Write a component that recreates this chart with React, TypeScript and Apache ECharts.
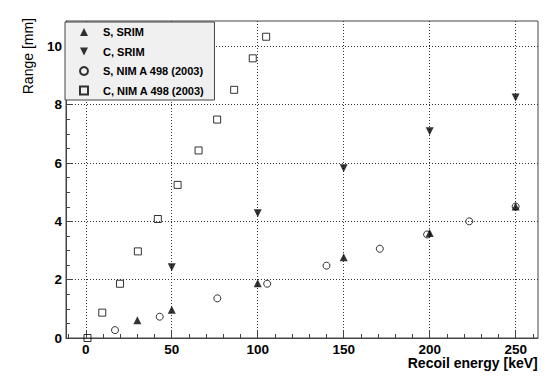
import React, { useEffect, useRef } from "react";
import * as echarts from "echarts";

// S, SRIM (up triangles)
const sSrimX = [30, 50, 100, 150, 200, 250];
const sSrimY = [0.61, 0.97, 1.88, 2.77, 3.6, 4.51];
// C, SRIM (down triangles)
const cSrimX = [50, 100, 150, 200, 250];
const cSrimY = [2.43, 4.28, 5.82, 7.09, 8.25];
// S, NIM A 498 (2003) (open circles)
const sNimX = [17, 43, 76.5, 105.5, 140, 171, 198.5, 223, 250];
const sNimY = [0.27, 0.73, 1.36, 1.86, 2.48, 3.06, 3.55, 4.0, 4.51];
// C, NIM A 498 (2003) (open squares)
const cNimX = [1, 9.6, 19.9, 30.3, 41.9, 53.4, 65.6, 76.4, 86.3, 97.1, 104.9];
const cNimY = [0.0, 0.87, 1.86, 2.97, 4.08, 5.25, 6.43, 7.49, 8.51, 9.59, 10.33];

const seriesNames = ["S, SRIM", "C, SRIM", "S, NIM A 498 (2003)", "C, NIM A 498 (2003)"];

const xMajor = [0, 50, 100, 150, 200, 250];
const xMinor = [-10, 10, 20, 30, 40, 60, 70, 80, 90, 110, 120, 130, 140, 160, 170, 180, 190, 210, 220, 230, 240, 260];
const yMajor = [0, 2, 4, 6, 8, 10];
const yMinor = [0.5, 1, 1.5, 2.5, 3, 3.5, 4.5, 5, 5.5, 6.5, 7, 7.5, 8.5, 9, 9.5, 10.5];

const xTitle = "Recoil energy [keV]";
const yTitle = "Range [mm]";

const FONT = "'Liberation Sans', Arial, Helvetica, sans-serif";
const FRAME = "#444";
const DOWN_TRIANGLE = "path://M0,0L10,0L5,10Z";

function zip(xs: number[], ys: number[]) {
  return xs.map((x, i) => [x, ys[i]]);
}

export default function App() {
  const ref = useRef<HTMLDivElement>(null);
  useEffect(() => {
    if (!ref.current) return;
    const chart = echarts.init(ref.current, undefined, { renderer: "svg" });
    const X_MIN = -11.5;
    const X_MAX = 263;
    const Y_MIN = 0;
    const Y_MAX = 10.87;
    const labelStyle = {
      fontFamily: FONT,
      fontWeight: "bold" as const,
      fontSize: 13.5,
      color: "#000",
    };
    chart.setOption({
      animation: false,
      backgroundColor: "#fff",
      grid: {
        left: 66,
        top: 21,
        right: 22,
        bottom: 50,
        show: true,
        borderColor: FRAME,
        borderWidth: 1,
        backgroundColor: "transparent",
      },
      xAxis: [
        {
          type: "value",
          min: X_MIN,
          max: X_MAX,
          position: "bottom",
          axisLine: { show: true, onZero: false, lineStyle: { color: FRAME, width: 1 } },
          axisTick: { show: true, inside: true, length: 8, customValues: xMajor, lineStyle: { color: FRAME } },
          axisLabel: { show: true, customValues: xMajor, margin: 4, ...labelStyle },
          splitLine: { show: true, lineStyle: { color: "#333", type: [1, 2], width: 1 } },
        },
        {
          type: "value",
          min: X_MIN,
          max: X_MAX,
          position: "bottom",
          axisLine: { show: false, onZero: false },
          axisTick: { show: true, inside: true, length: 4, customValues: xMinor, lineStyle: { color: FRAME } },
          axisLabel: { show: false },
          splitLine: { show: false },
        },
      ],
      yAxis: [
        {
          type: "value",
          min: Y_MIN,
          max: Y_MAX,
          position: "left",
          axisLine: { show: true, onZero: false, lineStyle: { color: FRAME, width: 1 } },
          axisTick: { show: true, inside: true, length: 7, customValues: yMajor, lineStyle: { color: FRAME } },
          axisLabel: { show: true, customValues: yMajor, margin: 4, ...labelStyle },
          splitLine: { show: true, lineStyle: { color: "#333", type: [1, 2], width: 1 } },
        },
        {
          type: "value",
          min: Y_MIN,
          max: Y_MAX,
          position: "left",
          axisLine: { show: false, onZero: false },
          axisTick: { show: true, inside: true, length: 4, customValues: yMinor, lineStyle: { color: FRAME } },
          axisLabel: { show: false },
          splitLine: { show: false },
        },
      ],
      legend: {
        orient: "vertical",
        left: 65,
        top: 22,
        padding: [4, 10, 3.5, 14],
        itemWidth: 8,
        itemHeight: 8,
        itemGap: 7.5,
        selectedMode: false,
        backgroundColor: "#f0f0f0",
        borderColor: FRAME,
        borderWidth: 1,
        data: seriesNames,
        textStyle: {
          fontFamily: FONT,
          fontWeight: "bold",
          fontSize: 11,
          lineHeight: 12,
          color: "#000",
          padding: [0, 0, 0, 10],
        },
      },
      graphic: [
        {
          type: "text",
          x: 537.7,
          y: 363,
          style: {
            text: xTitle,
            align: "right",
            verticalAlign: "middle",
            fontFamily: FONT,
            fontWeight: "bold",
            fontSize: 14,
            fill: "#000",
          },
        },
        {
          type: "text",
          x: 27.5,
          y: 18,
          rotation: Math.PI / 2,
          style: {
            text: yTitle,
            align: "right",
            verticalAlign: "middle",
            fontFamily: FONT,
            fontSize: 14,
            fill: "#000",
          },
        },
      ],
      series: [
        {
          name: seriesNames[0],
          type: "scatter",
          data: zip(sSrimX, sSrimY),
          symbol: "triangle",
          symbolSize: 8,
          itemStyle: { color: "#000" },
          z: 3,
        },
        {
          name: seriesNames[1],
          type: "scatter",
          data: zip(cSrimX, cSrimY),
          symbol: DOWN_TRIANGLE,
          symbolSize: 8,
          itemStyle: { color: "#000" },
          z: 3,
        },
        {
          name: seriesNames[2],
          type: "scatter",
          data: zip(sNimX, sNimY),
          symbol: "circle",
          symbolSize: 7,
          itemStyle: { color: "transparent", borderColor: "#000", borderWidth: 1 },
          z: 2,
        },
        {
          name: seriesNames[3],
          type: "scatter",
          data: zip(cNimX, cNimY),
          symbol: "rect",
          symbolSize: 7,
          itemStyle: { color: "transparent", borderColor: "#000", borderWidth: 1 },
          z: 2,
        },
      ],
    });
    return () => chart.dispose();
  }, []);
  return (
    <div
      ref={ref}
      style={{ position: "fixed", left: 0, top: 0, width: 560, height: 388, background: "#fff" }}
    />
  );
}
